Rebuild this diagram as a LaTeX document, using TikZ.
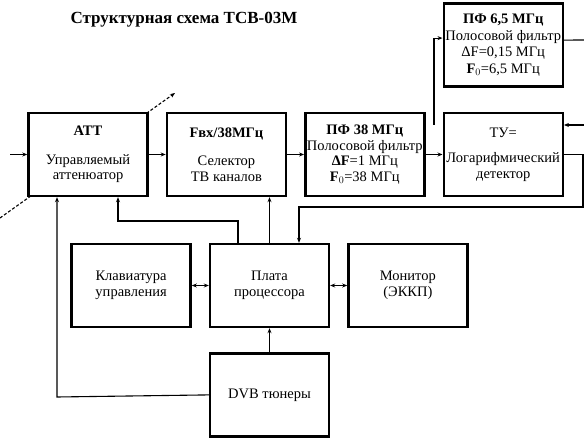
\documentclass[tikz,border=0pt]{standalone}
\usepackage{fontspec}
\setmainfont{Liberation Serif}
\usetikzlibrary{positioning,arrows.meta}

\tikzset{
  blk/.style={draw, line width=2.4pt, fill=white, minimum width=119pt,
    minimum height=83pt, align=center, inner sep=0pt,
    font=\fontsize{14.5}{15.5}\selectfont},
  wire/.style={line width=1.1pt},
}

\begin{document}
\begin{tikzpicture}[x=1pt,y=-1pt,>={Stealth[length=5pt,width=4pt]},node distance=24pt and 17pt]
\useasboundingbox (0,0) rectangle (584,443);
\node[font=\fontsize{17}{19}\selectfont\bfseries] (title) at (184,20) {Структурная схема ТСВ-03М};

% variable attenuator sign
\coordinate (v1) at (0,218);
\coordinate (v2) at (175,93);
\draw[wire,dash pattern=on 3pt off 2pt,->] (v1) -- (v2);

% signal path
\node[blk] (att) at (88,154.5) {\textbf{АТТ}\\[13pt]Управляемый\\аттенюатор};
\node[blk] (sel) [right=of att] {\textbf{Fвх/38МГц}\\[13pt]Селектор\\ТВ каналов};
\node[blk] (pf38) [right=of sel] {\textbf{ПФ 38 МГц}\\Полосовой фильтр\\\textbf{ΔF}=1 МГц\\\textbf{F$_0$}=38 МГц};
\node[blk] (ld) [right=of pf38] {ТУ=\\[10pt]Логарифмический\\детектор};
\node[blk,font=\fontsize{14.5}{16.5}\selectfont] (pf65) [above=of ld] {\textbf{ПФ 6,5 МГц}\\Полосовой фильтр\\ΔF=0,15 МГц\\\textbf{F$_0$}=6,5 МГц};

% control part
\node[blk] (cpu) at (269.5,285.5) {Плата\\процессора};
\node[blk] (kbd) [left=of cpu] {Клавиатура\\управления};
\node[blk] (mon) [right=of cpu] {Монитор\\(ЭККП)};
\node[blk] (dvb) [below=of cpu] {DVB тюнеры};

\coordinate (in) at (10,154.5);
\coordinate (br) at (434,125);
\coordinate (out65) at (584,40);
\coordinate (agc) at (584,125);
\coordinate (r1) at (583,207);
\coordinate (k1) at (118,221);
\coordinate (k2) at (57,397);

\draw[wire,->] (in) -- (att);
\draw[wire,->] (att) -- (sel);
\draw[wire,->] (sel) -- (pf38);
\draw[wire,->] (pf38) -- (ld);
\draw[wire,->] (br) |- ([yshift=7pt]pf65.west);
\draw[wire] ([yshift=5pt]pf65.east) -- (out65);
\draw[wire,->] (agc) -- (agc -| ld.east);
\draw[wire,->] (ld.east) -| (r1) -| ([xshift=29.5pt]cpu.north);
\draw[wire,->] (cpu.north) -- (cpu.north |- sel.south);
\draw[wire,->] ([xshift=-31.5pt]cpu.north) |- (k1) -- (k1 |- att.south);
\draw[wire,->] (dvb.west) -- (k2) -- (k2 |- att.south);
\draw[wire,->] (dvb) -- (cpu);
\draw[wire,<->] (kbd) -- (cpu);
\draw[wire,<->] (cpu) -- (mon);
\end{tikzpicture}
\end{document}
